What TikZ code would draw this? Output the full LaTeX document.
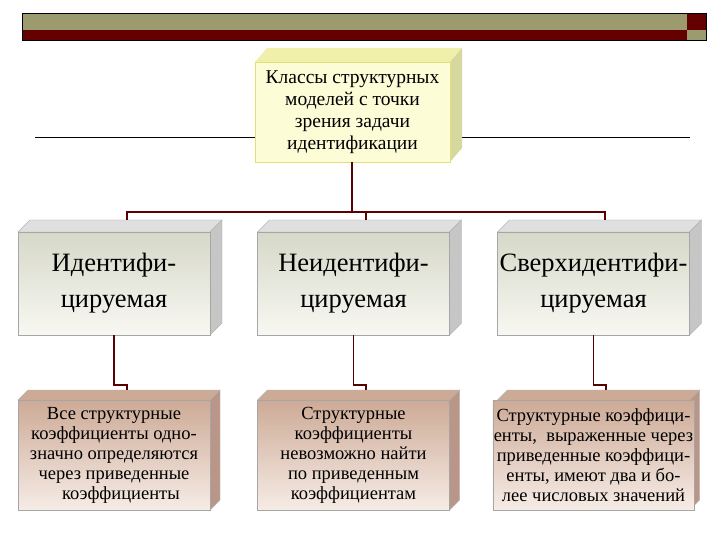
\documentclass[tikz,border=0pt]{standalone}
\usepackage{fontspec}
\setmainfont{Liberation Serif}
\definecolor{olv}{RGB}{155,155,110}
\definecolor{dred}{RGB}{100,0,0}
\definecolor{cred}{RGB}{90,0,0}
\definecolor{mtop}{RGB}{214,216,200}
\definecolor{mbot}{RGB}{248,248,242}
\definecolor{ltop}{RGB}{205,170,150}
\definecolor{lbot}{RGB}{246,236,230}
\definecolor{lside}{RGB}{185,150,135}
\definecolor{tyb}{RGB}{225,225,120}
\definecolor{tyf}{RGB}{252,252,215}
\definecolor{tyt}{RGB}{240,240,170}
\definecolor{tys}{RGB}{215,215,160}
\begin{document}
\begin{tikzpicture}[x=1pt,y=-1pt,
  conn/.style={draw=cred,line width=1.6pt},
  midbox/.style={draw=gray!70,top color=mtop,bottom color=mbot,minimum width=192pt,minimum height=103pt,inner sep=2pt,align=center,font=\fontsize{26.5}{36}\selectfont},
  lowbox/.style={draw=gray!70,top color=ltop,bottom color=lbot,minimum width=192pt,minimum height=110pt,inner sep=1pt,align=center,font=\fontsize{18.5}{20}\selectfont},
  topbox/.style={draw=tyb,fill=tyf,minimum width=195pt,minimum height=100pt,align=center,font=\fontsize{19.5}{22}\selectfont}]
\useasboundingbox (0,0) rectangle (720,540);
\fill[white] (0,0) rectangle (720,540);
% header bar
\fill[olv] (22,13) rectangle (687,30);
\fill[dred] (22,30) rectangle (687,40);
\fill[dred] (687,13) rectangle (706,30);
\fill[olv] (687,30) rectangle (706,40);
\draw[line width=0.6pt] (22,13) rectangle (706,40);
% lines
\draw (35,137) -- (255,137);
\draw (462,137) -- (690,137);
% top box
\fill[tyt] (255,62) -- (267,48) -- (462,48) -- (450,62) -- cycle;
\fill[tys] (450,62) -- (462,48) -- (462,148) -- (450,162) -- cycle;
\node[topbox] (top) at (352.5,112) {Классы структурных\\моделей с точки\\зрения задачи\\идентификации};
% 3D faces
\foreach \cx in {114,353.5,593.5}{
  \filldraw[fill=gray!25,draw=gray!60] (\cx-96,232) -- (\cx-84,220) -- (\cx+108,220) -- (\cx+96,232) -- cycle;
  \filldraw[fill=gray!45,draw=gray!60] (\cx+96,232) -- (\cx+108,220) -- (\cx+108,323) -- (\cx+96,335) -- cycle;
  \filldraw[fill=ltop,draw=gray!60] (\cx-96,400) -- (\cx-86,390) -- (\cx+106,390) -- (\cx+96,400) -- cycle;
  \filldraw[fill=lside,draw=gray!60] (\cx+96,400) -- (\cx+106,390) -- (\cx+106,500) -- (\cx+96,510) -- cycle;
}
\node[midbox] (m1) at (114,283.5) {Идентифи-\\цируемая};
\node[midbox] (m2) at (353.5,283.5) {Неидентифи-\\цируемая};
\node[midbox] (m3) at (593.5,283.5) {Сверхидентифи-\\цируемая};
\node[lowbox] (l1) at (114,455) {Все структурные\\коэффициенты одно-\\значно определяются\\через приведенные\\\ \ \ коэффициенты};
\node[lowbox] (l2) at (353.5,455) {Структурные\\коэффициенты\\невозможно найти\\по приведенным\\коэффициентам};
\node[lowbox] (l3) at (593.5,455) {Структурные коэффици-\\енты, \ выраженные через\\приведенные коэффици-\\енты, имеют два и бо-\\лее числовых значений};
% connectors
\coordinate (j) at (352,212);
\draw[conn] (top.south -| j) -- (j);
\draw[conn] (127,220) -- (127,212) -- (605,212) -- (605,220);
\draw[conn] (366,212) -- (366,220);
\draw[conn] (m1.south) -- ++(0,50) -| (127,390);
\draw[conn] (m2.south) -- ++(0,50) -| (366,390);
\draw[conn] (m3.south) -- ++(0,50) -| (606,390);
\end{tikzpicture}
\end{document}
